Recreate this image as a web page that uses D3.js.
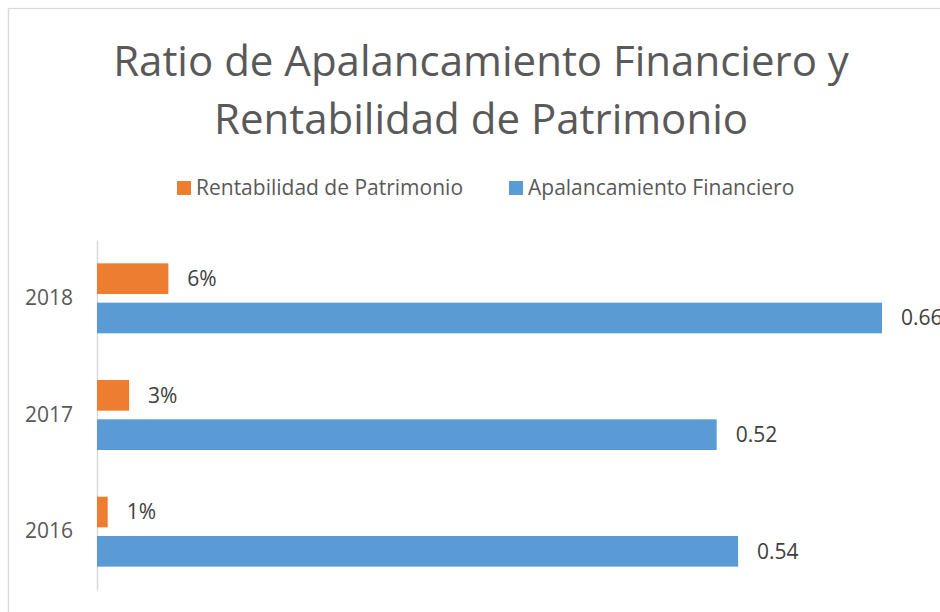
<!DOCTYPE html>
<html>
<head>
<meta charset="utf-8">
<style>
  body {
    margin: 0;
    background: white;
    font-family: 'Open Sans', sans-serif;
  }
</style>
</head>
<body>
<svg id="svgVis"></svg>

<script src="https://cdn.jsdelivr.net/npm/d3@7/dist/d3.min.js"></script>
<script>

// chart data
var titleLines = ["Ratio de Apalancamiento Financiero y", "Rentabilidad de Patrimonio"];
var years = ["2018", "2017", "2016"];
var seriesNames = ["Rentabilidad de Patrimonio", "Apalancamiento Financiero"];
var rentabilidad = [0.06, 0.027, 0.009];
var apalancamiento = [0.66, 0.521, 0.539];
var rentabilidadLabels = ["6%", "3%", "1%"];
var apalancamientoLabels = ["0.66", "0.52", "0.54"];
var colors = ["#ED7D31", "#5B9BD5"];

var width = 940, height = 612;

var svg = d3.select("#svgVis")
    .attr("width", width)
    .attr("height", height);

// chart area border (cut at the right and bottom)
svg.append("rect")
    .attr("x", 8.5)
    .attr("y", 8.5)
    .attr("width", 1000)
    .attr("height", 1000)
    .attr("fill", "white")
    .attr("stroke", "#d9d9d9")
    .attr("stroke-width", 1.3);

// title
svg.append("text")
    .attr("x", 481)
    .attr("y", 76)
    .attr("text-anchor", "middle")
    .style("font-size", "42px")
    .style("fill", "#595959")
    .selectAll("tspan")
    .data(titleLines)
    .enter()
    .append("tspan")
    .attr("x", 481)
    .attr("dy", function(d, i) { return i === 0 ? 0 : 58; })
    .text(function(d) { return d; });

// legend
var legendX = [177, 509];
var legend = svg.selectAll(".legend")
    .data(seriesNames)
    .enter()
    .append("g")
    .attr("class", "legend")
    .attr("transform", function(d, i) { return "translate(" + legendX[i] + ",181)"; });

legend.append("rect")
    .attr("width", 14)
    .attr("height", 14)
    .attr("fill", function(d, i) { return colors[i]; });

legend.append("text")
    .attr("x", 19)
    .attr("y", 14)
    .style("font-size", "21px")
    .style("fill", "#595959")
    .text(function(d) { return d; });

// scales
var x = d3.scaleLinear()
    .domain([0, 0.7])
    .range([97, 97 + 0.7 * 1189.4]);

var y = d3.scaleBand()
    .domain(years)
    .range([240, 590]);

var inner = d3.scaleBand()
    .domain([0, 1])
    .range([y.bandwidth() / 2 - 35, y.bandwidth() / 2 + 35])
    .paddingInner(0.22);

// category axis
var yAxis = d3.axisLeft(y).tickSize(0).tickPadding(24);
var gAxis = svg.append("g")
    .attr("transform", "translate(97,0)")
    .call(yAxis);
gAxis.select(".domain")
    .attr("stroke", "#d9d9d9")
    .attr("stroke-width", 1.5);
gAxis.selectAll("text")
    .style("font-family", "'Open Sans', sans-serif")
    .style("font-size", "21px")
    .style("fill", "#595959");

// bars
var allSeries = [
  {values: rentabilidad, labels: rentabilidadLabels},
  {values: apalancamiento, labels: apalancamientoLabels}
];

allSeries.forEach(function(s, si) {

  svg.selectAll(".bar" + si)
    .data(years)
    .enter()
    .append("rect")
    .attr("x", x(0))
    .attr("y", function(d) { return y(d) + inner(si); })
    .attr("width", function(d, i) { return x(s.values[i]) - x(0); })
    .attr("height", inner.bandwidth())
    .attr("fill", colors[si]);

  svg.selectAll(".label" + si)
    .data(years)
    .enter()
    .append("text")
    .attr("x", function(d, i) { return x(s.values[i]) + 19; })
    .attr("y", function(d) { return y(d) + inner(si) + inner.bandwidth() / 2; })
    .attr("dy", "0.35em")
    .style("font-size", "21px")
    .style("fill", "#404040")
    .text(function(d, i) { return s.labels[i]; });

});

</script>
</body>
</html>
